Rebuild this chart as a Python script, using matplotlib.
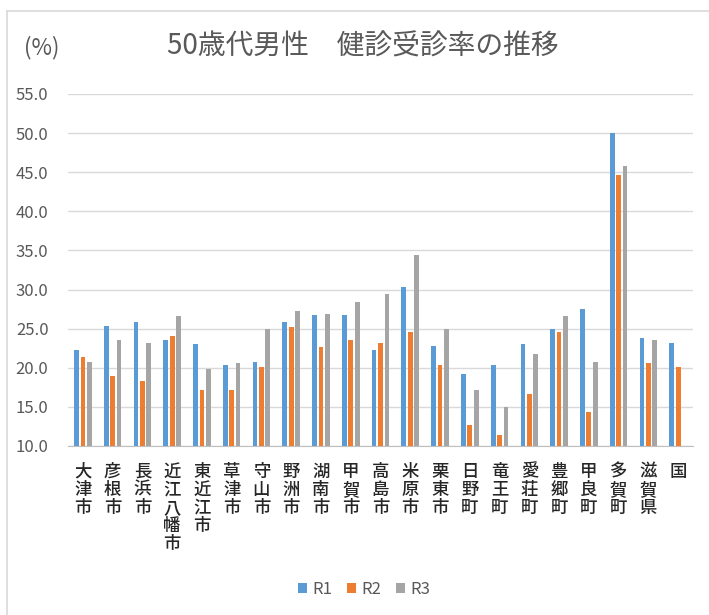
import numpy as np
import matplotlib
matplotlib.use("Agg")
import matplotlib.pyplot as plt
from matplotlib.lines import Line2D

plt.rcParams['font.family'] = ['Noto Sans CJK JP', 'DejaVu Sans']

# Data
cities = ["大津市", "彦根市", "長浜市", "近江八幡市", "東近江市", "草津市", "守山市",
          "野洲市", "湖南市", "甲賀市", "高島市", "米原市", "栗東市", "日野町",
          "竜王町", "愛荘町", "豊郷町", "甲良町", "多賀町", "滋賀県", "国"]
r1 = [22.3, 25.4, 25.8, 23.5, 23.1, 20.3, 20.8, 25.9, 26.8, 26.8, 22.3,
      30.3, 22.8, 19.2, 20.3, 23.1, 24.9, 27.5, 50.0, 23.8, 23.2]
r2 = [21.4, 18.9, 18.3, 24.1, 17.1, 17.2, 20.1, 25.2, 22.6, 23.5, 23.2,
      24.6, 20.3, 12.7, 11.4, 16.7, 24.6, 14.4, 44.7, 20.6, 20.1]
r3 = [20.8, 23.5, 23.2, 26.6, 19.8, 20.6, 25.0, 27.2, 26.9, 28.4, 29.4,
      34.4, 25.0, 17.2, 15.0, 21.7, 26.6, 20.8, 45.8, 23.6, np.nan]
series = ["R1", "R2", "R3"]
colors = ["#5B9BD5", "#ED7D31", "#A5A5A5"]

fig = plt.figure(figsize=(7.09, 6.15), dpi=100)
ax = fig.add_axes([68/709, 1 - 446/615, 625/709, 352/615])

x = np.arange(len(cities))
w = 0.16
step = 0.215
for i, (vals, lab, c) in enumerate(zip([r1, r2, r3], series, colors)):
    ax.bar(x + (i - 1) * step, vals, width=w, color=c, label=lab, zorder=3)

ax.set_ylim(10, 55)
ax.set_xlim(-0.5, len(cities) - 0.5)
ax.set_yticks(np.arange(10, 56, 5))
ax.set_yticklabels([f"{v:.1f}" for v in np.arange(10, 56, 5)])
ax.yaxis.grid(True, color="#D9D9D9", linewidth=1, zorder=0)
ax.tick_params(axis='y', length=0, pad=14, labelsize=12, labelcolor="#595959")
ax.tick_params(axis='x', length=0, pad=12)
ax.set_xticks(x)
ax.set_xticklabels(["\n".join(c) for c in cities], fontsize=12.5, color="#262626",
                   linespacing=1.0, fontweight="medium")
for s in ["top", "right", "left"]:
    ax.spines[s].set_visible(False)
ax.spines["bottom"].set_color("#BFBFBF")
ax.spines["bottom"].set_zorder(4)

fig.text(363/709, 1 - 47/615, "50歳代男性　健診受診率の推移", fontsize=20,
         color="#595959", ha="center", va="center")
fig.text(24/709, 1 - 48/615, "(%)", fontsize=16, color="#595959",
         ha="left", va="center")

fig.legend(loc="center", bbox_to_anchor=(364/709, 1 - 589/615), ncol=3,
           frameon=False, fontsize=12, handlelength=0.55, handleheight=0.55,
           columnspacing=0.9, handletextpad=0.3, labelcolor="#595959")

# chart area frame
fig.add_artist(Line2D([7/709, 7/709], [0, 1 - 11/615], color="#D9D9D9",
                      linewidth=1.2, transform=fig.transFigure))
fig.add_artist(Line2D([7/709, 1], [1 - 11/615, 1 - 11/615], color="#D9D9D9",
                      linewidth=1.2, transform=fig.transFigure))

fig.savefig("out.png", dpi=100)
